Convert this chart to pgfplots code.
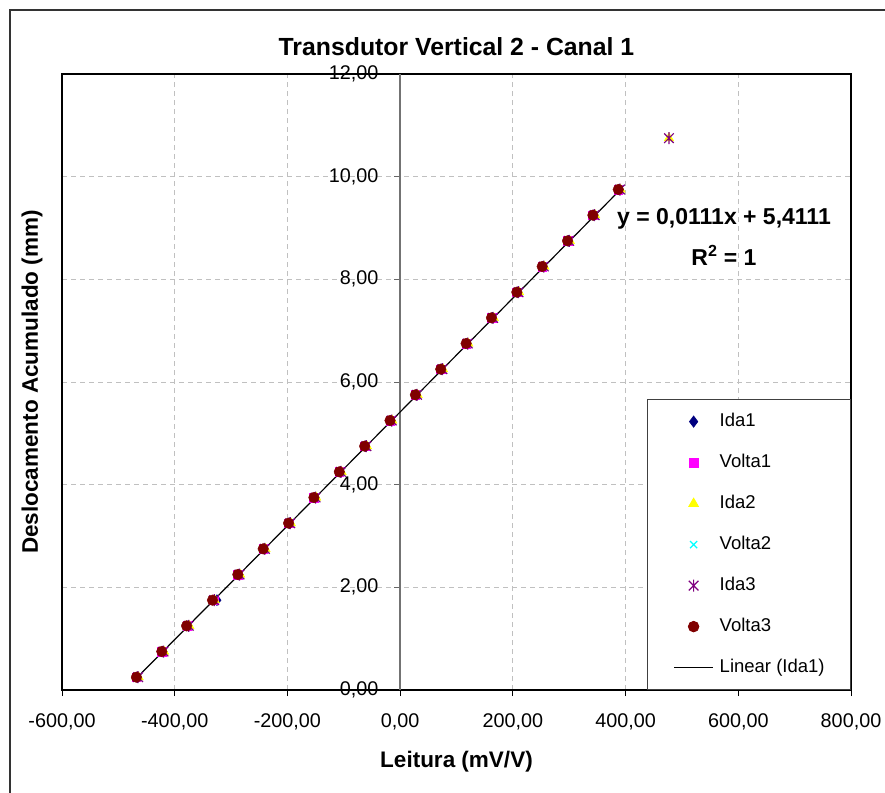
\documentclass[border=0pt]{standalone}
\usepackage{pgfplots}
\pgfplotsset{compat=1.18}
\usepackage{pgfplotstable}
\usepackage{fontspec}
\setmainfont{Liberation Sans}
\definecolor{cIdaA}{HTML}{000080}
\definecolor{cVoltaA}{HTML}{FF00FF}
\definecolor{cIdaB}{HTML}{FFFF00}
\definecolor{cVoltaB}{HTML}{00FFFF}
\definecolor{cIdaC}{HTML}{800080}
\definecolor{cVoltaC}{HTML}{800000}
\definecolor{gridc}{HTML}{C0C0C0}
\pgfdeclareplotmark{xstar}{%
  \pgfpathmoveto{\pgfpoint{-\pgfplotmarksize}{-\pgfplotmarksize}}%
  \pgfpathlineto{\pgfpoint{\pgfplotmarksize}{\pgfplotmarksize}}%
  \pgfpathmoveto{\pgfpoint{-\pgfplotmarksize}{\pgfplotmarksize}}%
  \pgfpathlineto{\pgfpoint{\pgfplotmarksize}{-\pgfplotmarksize}}%
  \pgfpathmoveto{\pgfpoint{0pt}{-1.25\pgfplotmarksize}}%
  \pgfpathlineto{\pgfpoint{0pt}{1.25\pgfplotmarksize}}%
  \pgfusepathqstroke}

\pgfplotstableread{
x y
-466 0.25
-421 0.75
-376 1.25
-325 1.75
-286 2.25
-241 2.75
-196 3.25
-151 3.75
-106 4.25
-61 4.75
-16 5.25
29 5.75
74 6.25
119 6.75
164 7.25
209 7.75
254 8.25
299 8.75
344 9.25
389 9.75
}\idaA
\pgfplotstableread{
x y
-468 0.25
-423 0.75
-378 1.25
-331 1.75
-288 2.25
-243 2.75
-198 3.25
-153 3.75
-108 4.25
-63 4.75
-18 5.25
27 5.75
72 6.25
117 6.75
162 7.25
207 7.75
252 8.25
297 8.75
342 9.25
387 9.75
}\voltaA
\pgfplotstableread{
x y
-464 0.25
-419 0.75
-374 1.25
-329 1.75
-284 2.25
-239 2.75
-194 3.25
-149 3.75
-104 4.25
-59 4.75
-14 5.25
31 5.75
76 6.25
121 6.75
166 7.25
211 7.75
256 8.25
301 8.75
346 9.25
391 9.75
477 10.75
}\idaB
\pgfplotstableread{
x y
-466 0.25
-421 0.75
-377 1.25
-331 1.75
-286 2.25
-241 2.75
-196 3.25
-151 3.75
-106 4.25
-61 4.75
-16 5.25
29 5.75
74 6.25
119 6.75
164 7.25
209 7.75
254 8.25
299 8.75
344 9.25
389 9.75
}\voltaB
\pgfplotstableread{
x y
-465 0.25
-420 0.75
-375 1.25
-330 1.75
-285 2.25
-240 2.75
-195 3.25
-150 3.75
-105 4.25
-60 4.75
-15 5.25
30 5.75
75 6.25
120 6.75
165 7.25
210 7.75
255 8.25
300 8.75
345 9.25
390 9.75
477 10.75
}\idaC
\pgfplotstableread{
x y
-468 0.25
-423 0.75
-379 1.25
-333 1.75
-288 2.25
-243 2.75
-198 3.25
-153 3.75
-108 4.25
-63 4.75
-18 5.25
27 5.75
72 6.25
117 6.75
162 7.25
207 7.75
252 8.25
297 8.75
342 9.25
387 9.75
}\voltaC

\begin{document}
\begin{tikzpicture}
\useasboundingbox (0bp,0bp) rectangle (885bp,-793bp);
\fill[white] (0bp,0bp) rectangle (885bp,-793bp);
\draw[black!80, line width=1.3bp] (10bp,-800bp) -- (10bp,-10bp) -- (900bp,-10bp);
\begin{axis}[
  at={(62bp,-690bp)}, anchor=south west,
  scale only axis, width=789bp, height=616bp,
  xmin=-600, xmax=800, ymin=0, ymax=12,
  xtick={-600,-400,...,800}, ytick={0,2,...,12},
  axis line style={black, line width=2.8bp},
  tick align=outside, xtick pos=bottom, ytick pos=left,
  major tick length=6bp,
  xtick style={black, line width=0.8bp},
  ytick style={black!60, line width=0.9bp, xshift=338.1bp},
  grid=major,
  major grid style={gridc, line width=0.9bp, dash pattern=on 5bp off 4bp},
  extra x ticks={0}, extra x tick labels={},
  extra x tick style={grid=major, major grid style={solid, black!55, line width=1.3bp}, major tick length=0pt},
  scaled ticks=false,
  /pgf/number format/assume math mode=true,
  /pgf/number format/fixed, /pgf/number format/fixed zerofill,
  /pgf/number format/precision=2, /pgf/number format/use comma,
  ticklabel style={font=\fontsize{19.8bp}{23bp}\selectfont},
  yticklabel style={xshift=326bp},
  xticklabel style={yshift=-14bp},
  title={Transdutor Vertical 2 - Canal 1},
  title style={at={(0.5,1)}, anchor=center, yshift=21bp, font=\bfseries\fontsize{24.8bp}{28bp}\selectfont},
  xlabel={Leitura (mV/V)},
  xlabel style={at={(0.5,0)}, anchor=center, yshift=-72bp, font=\bfseries\fontsize{22.5bp}{26bp}\selectfont},
  ylabel={Deslocamento Acumulado (mm)},
  ylabel style={at={(0,0.5)}, anchor=center, yshift=30bp, font=\bfseries\fontsize{22.5bp}{26bp}\selectfont},
  legend image code/.code={\path (0bp,0bp) (39bp,0bp);
    \draw[mark repeat=2,mark phase=2,#1] plot coordinates {(0bp,0bp) (19.5bp,0bp) (39bp,0bp)};},
  legend cell align=left,
  legend style={at={(1,0)}, anchor=south east, draw=black!75, line width=0.8bp, fill=white,
    inner xsep=26bp, inner ysep=13.5bp, row sep=24bp, column sep=6bp,
    nodes={inner sep=0pt, text height=13.5bp, text depth=3.5bp, font=\fontsize{18.5bp}{22bp}\selectfont}},
  clip=false,
]
\addplot[only marks, mark=diamond*, mark size=5.5bp, color=cIdaA] table {\idaA};
\addlegendentry{Ida1}
\addplot[only marks, mark=square*, mark size=4.3bp, color=cVoltaA] table {\voltaA};
\addlegendentry{Volta1}
\addplot[only marks, mark=triangle*, mark size=5.5bp, color=cIdaB] table {\idaB};
\addlegendentry{Ida2}
\addplot[only marks, mark=x, mark size=5bp, color=cVoltaB, line width=1.2bp] table {\voltaB};
\addlegendentry{Volta2}
\addplot[only marks, mark=xstar, mark size=4.8bp, color=cIdaC, line width=1.2bp] table {\idaC};
\addlegendentry{Ida3}
\addplot[only marks, mark=*, mark size=5.3bp, color=cVoltaC] table {\voltaC};
\addlegendentry{Volta3}
\addplot[black, line width=1.2bp] coordinates {(-467,0.24) (391,9.75)};
\addlegendentry{Linear (Ida1)}
\end{axis}
\node[font=\bfseries\fontsize{23bp}{27bp}\selectfont] at (724bp,-219bp) {y = 0,0111x + 5,4111};
\node[font=\bfseries\fontsize{23bp}{27bp}\selectfont] at (724bp,-255bp) {R\textsuperscript{2} = 1};
\end{tikzpicture}
\end{document}
